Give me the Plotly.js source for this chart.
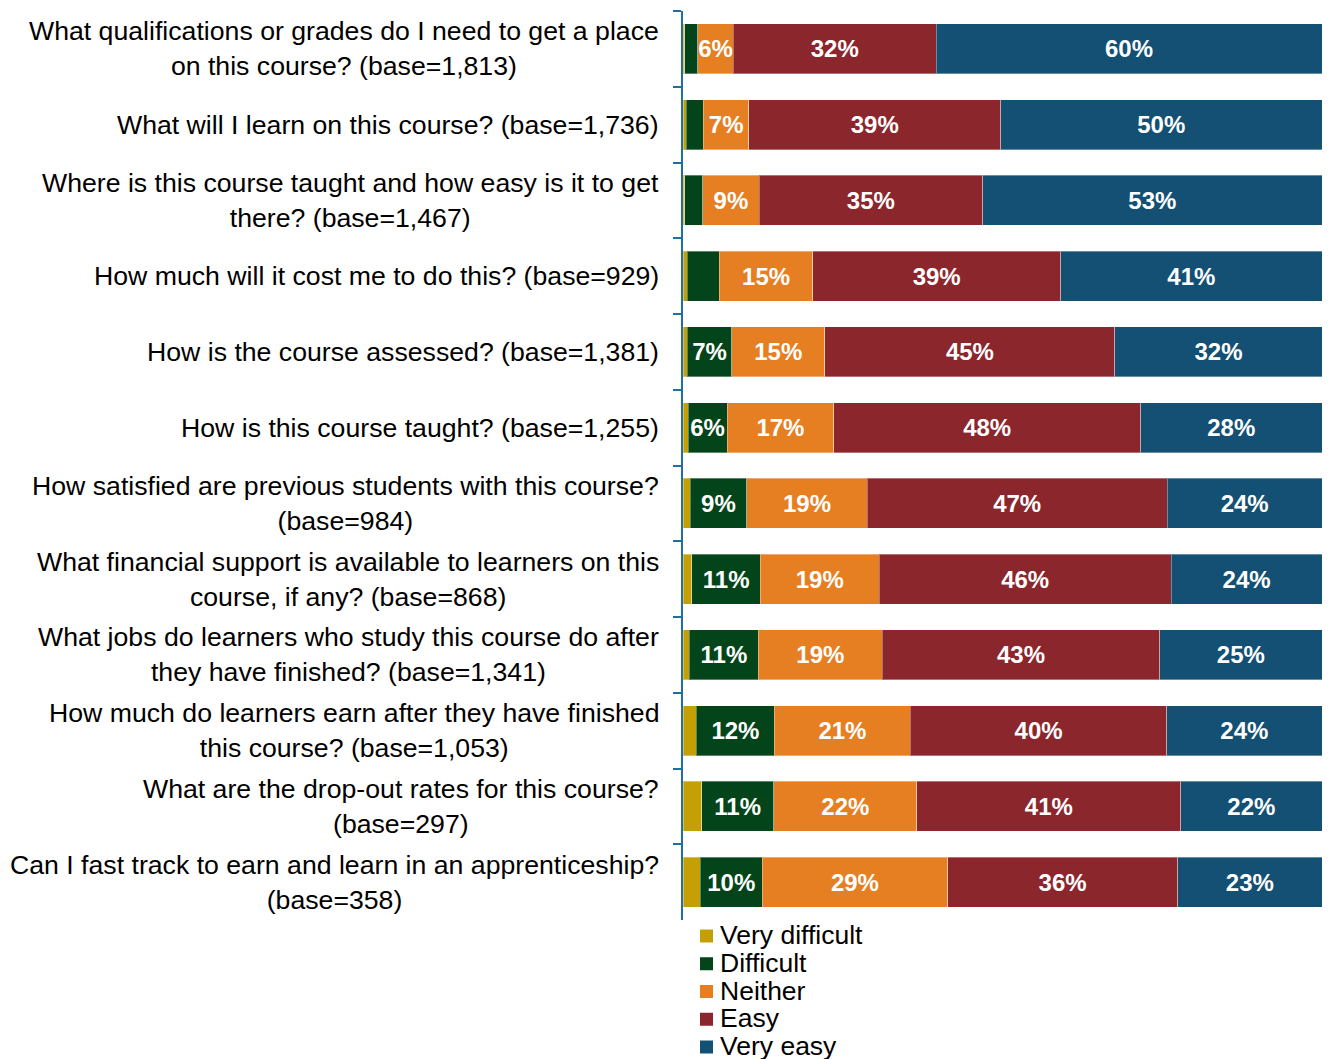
<!DOCTYPE html>
<html>
<head>
<meta charset="utf-8">
<script src="https://cdn.plot.ly/plotly-3.0.1.min.js"></script>
<style>html,body{margin:0;padding:0;background:#fff;}#chart{width:1328px;height:1059px;}</style>
</head>
<body>
<div id="chart"></div>
<script>
const categories = [
  "What qualifications or grades do I need to get a place<br>on this course? (base=1,813)",
  "What will I learn on this course? (base=1,736)",
  "Where is this course taught and how easy is it to get<br>there? (base=1,467)",
  "How much will it cost me to do this? (base=929)",
  "How is the course assessed? (base=1,381)",
  "How is this course taught? (base=1,255)",
  "How satisfied are previous students with this course?<br>(base=984)",
  "What financial support is available to learners on this<br>course, if any? (base=868)",
  "What jobs do learners who study this course do after<br>they have finished? (base=1,341)",
  "How much do learners earn after they have finished<br>this course? (base=1,053)",
  "What are the drop-out rates for this course?<br>(base=297)",
  "Can I fast track to earn and learn in an apprenticeship?<br>(base=358)"
];

const seriesNames = ["Very difficult", "Difficult", "Neither", "Easy", "Very easy"];
const seriesColors = ["#c4a004", "#03441a", "#e67e22", "#8b262c", "#135073"];

const veryDifficult = [0.3, 0.5, 0.3, 0.7, 0.7, 0.8, 1.1, 1.4, 1.0, 2.1, 2.9, 2.7];
const difficult     = [2.0, 2.7, 2.8, 5.0, 6.9, 6.1, 8.9, 10.7, 10.8, 12.2, 11.3, 9.7];
const neither       = [5.6, 7.1, 8.8, 14.6, 14.6, 16.7, 18.8, 18.6, 19.4, 21.3, 22.4, 29.0];
const easy          = [31.7, 39.4, 35.0, 38.8, 45.4, 48.0, 47.0, 45.7, 43.4, 40.1, 41.3, 36.0];
const veryEasy      = [60.4, 50.3, 53.1, 40.9, 32.4, 28.4, 24.2, 23.6, 25.4, 24.3, 22.1, 22.6];

const seriesValues = [veryDifficult, difficult, neither, easy, veryEasy];
const labelThreshold = 5.5;
const FONT = "Arial, 'Liberation Sans', sans-serif";
const axisBlue = "#1f6fa3";

// figure geometry (pixels)
const W = 1328, H = 1059;
const M = {l: 683, r: 6, t: 11, b: 139};
const plotW = W - M.l - M.r, plotH = H - M.t - M.b;
const px2x = px => (px - M.l) / plotW;
const px2y = py => (H - M.b - py) / plotH;

const traces = seriesValues.map((vals, i) => ({
  type: "bar",
  orientation: "h",
  name: seriesNames[i],
  y: categories,
  x: vals,
  text: vals.map(v => v >= labelThreshold ? Math.round(v) + "%" : ""),
  textposition: "inside",
  insidetextanchor: "middle",
  textangle: 0,
  constraintext: "none",
  textfont: {family: FONT, size: 24, color: "#ffffff", weight: "bold"},
  marker: {color: seriesColors[i], line: {color: "rgba(255,255,255,0.35)", width: 1}},
  showlegend: false,
  hoverinfo: "name+x"
}));

// category labels: right-aligned block, lines centred within it
const annotations = categories.map(c => ({
  xref: "paper", yref: "y",
  x: 0, y: c,
  xanchor: "right", yanchor: "middle",
  xshift: -22,
  align: "center",
  text: c,
  showarrow: false,
  font: {family: FONT, size: 26.67, color: "#000000"}
}));

// legend (drawn below the axis, tight spacing as in the original)
const legendTop = 935, legendStep = 27.75, sq = 13;
const shapes = [];
seriesNames.forEach((name, i) => {
  const cy = legendTop + i * legendStep;
  shapes.push({
    type: "rect", xref: "paper", yref: "paper",
    x0: px2x(700), x1: px2x(700 + sq),
    y0: px2y(cy + 1 - sq / 2), y1: px2y(cy + 1 + sq / 2),
    fillcolor: seriesColors[i], line: {width: 0}
  });
  annotations.push({
    xref: "paper", yref: "paper",
    x: px2x(718), y: px2y(cy),
    xanchor: "left", yanchor: "middle",
    text: name, showarrow: false,
    font: {family: FONT, size: 26.5, color: "#000000"}
  });
});

const layout = {
  width: W,
  height: H,
  margin: {l: M.l, r: M.r, t: M.t, b: M.b, autoexpand: false},
  paper_bgcolor: "#ffffff",
  plot_bgcolor: "#ffffff",
  barmode: "stack",
  bargap: 0.34,
  font: {family: FONT, size: 24, color: "#000000"},
  xaxis: {
    range: [0, 100],
    visible: false,
    fixedrange: true
  },
  yaxis: {
    type: "category",
    categoryorder: "array",
    categoryarray: categories,
    autorange: "reversed",
    showticklabels: false,
    showline: true,
    linecolor: axisBlue,
    linewidth: 2,
    ticks: "outside",
    tickson: "boundaries",
    ticklen: 8,
    tickwidth: 2,
    tickcolor: axisBlue,
    showgrid: false,
    zeroline: false,
    fixedrange: true
  },
  showlegend: false,
  shapes: shapes,
  annotations: annotations
};

Plotly.newPlot("chart", traces, layout, {displayModeBar: false, staticPlot: true});
</script>
</body>
</html>
